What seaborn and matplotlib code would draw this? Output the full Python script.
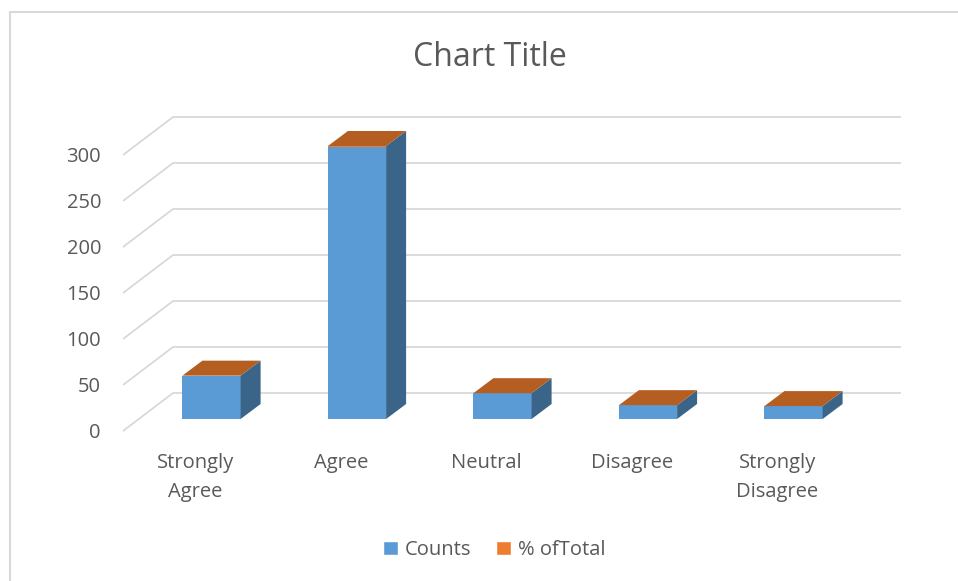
import numpy as np
import pandas as pd
import seaborn as sns
import matplotlib.pyplot as plt
from matplotlib.patches import Polygon, Patch
from matplotlib.lines import Line2D

# ---- data ----
categories = ["Strongly\nAgree", "Agree", "Neutral", "Disagree", "Strongly\nDisagree"]
counts = [47, 296, 28, 15, 14]
pct_total = [0.1175, 0.74, 0.07, 0.0375, 0.035]
y_ticks = [0, 50, 100, 150, 200, 250, 300]
series_names = ["Counts", "% ofTotal"]
title = "Chart Title"

# ---- styling ----
BLUE = "#5B9BD5"
BLUE_SIDE = "#3A6588"
ORANGE = "#ED7D31"
ORANGE_TOP = "#B55E22"
GRID = "#D9D9D9"
TXT = "#595959"

sns.set_theme(style="white")
plt.rcParams["font.family"] = ["Open Sans", "DejaVu Sans"]

W, H = 958, 581
fig = plt.figure(figsize=(W / 100, H / 100), dpi=100)
ax = fig.add_axes([0, 0, 1, 1])

# pixel geometry of the 3D projection
px_cat = 145.5      # pixels per category
px_val = 0.92       # pixels per value unit
x0_px, y0_px = 211.5, 419.0   # pixel of category 0 centre / value 0 (bar front)

df = pd.DataFrame({"Response": categories, "Counts": counts, "Pct": pct_total})
sns.barplot(data=df, x="Response", y="Counts", color=BLUE, saturation=1,
            width=0.4, ax=ax, zorder=3, linewidth=0)

bar_dx = 20 / px_cat
bar_dy = 15 / px_val
for p, c, pc in zip(list(ax.patches), counts, pct_total):
    xl = p.get_x()
    xr = xl + p.get_width()
    htot = c + pc
    # stacked % segment front (tiny)
    ax.bar(xl, pc, width=p.get_width(), bottom=c, align="edge", color=ORANGE,
           zorder=3, linewidth=0)
    side = Polygon([(xr, 0), (xr + bar_dx, bar_dy), (xr + bar_dx, htot + bar_dy), (xr, htot)],
                   closed=True, facecolor=BLUE_SIDE, edgecolor="none", zorder=3)
    top = Polygon([(xl, htot), (xr, htot), (xr + bar_dx, htot + bar_dy), (xl + bar_dx, htot + bar_dy)],
                  closed=True, facecolor=ORANGE_TOP, edgecolor="none", zorder=3)
    ax.add_patch(side)
    ax.add_patch(top)

# wall gridlines
front_x = (123 - x0_px) / px_cat
back_x = (173 - x0_px) / px_cat
right_x = (901 - x0_px) / px_cat
front_off = -(431 - y0_px) / px_val
back_off = (y0_px - 393) / px_val
label_drop = 2 / px_val
for v in y_ticks:
    ax.plot([front_x, back_x, right_x], [v + front_off, v + back_off, v + back_off],
            color=GRID, lw=1.3, zorder=1, solid_capstyle="butt")
    ax.text((101 - x0_px) / px_cat, v + front_off - label_drop, str(v), ha="right", va="center",
            fontsize=14.5, color=TXT)

# category labels at front of floor
lab_shift = 16 / px_cat
lab_y = (y0_px - 453) / px_val
for i, cat in enumerate(categories):
    ax.text(i - lab_shift, lab_y, cat, ha="center", va="top", fontsize=14.5,
            color=TXT, linespacing=1.58)

ax.set_xlim(-x0_px / px_cat, (W - x0_px) / px_cat)
ax.set_ylim((y0_px - H) / px_val, y0_px / px_val)
ax.axis("off")

# title
fig.text(490 / W, 1 - 57 / H, title, ha="center", va="center", fontsize=23, color=TXT)

# legend
handles = [Patch(facecolor=BLUE, label=series_names[0]), Patch(facecolor=ORANGE, label=series_names[1])]
fig.legend(handles=handles, loc="center", bbox_to_anchor=(494 / W, 1 - 550 / H), ncol=2,
           frameon=False, fontsize=14.5, handlelength=0.75, handleheight=0.75,
           handletextpad=0.35, columnspacing=1.2, labelcolor=TXT)

# chart border
fig.add_artist(Line2D([10 / W, 1], [1 - 12 / H, 1 - 12 / H], transform=fig.transFigure, color=GRID, lw=1.5))
fig.add_artist(Line2D([10 / W, 10 / W], [0, 1 - 12 / H], transform=fig.transFigure, color=GRID, lw=1.5))

fig.savefig("out.png", dpi=100)
